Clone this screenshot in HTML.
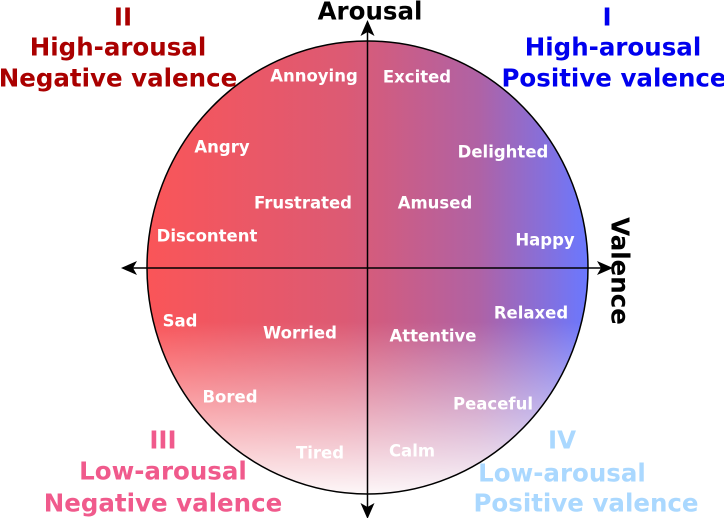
<!DOCTYPE html>
<html><head><meta charset="utf-8"><style>
body{margin:0;background:#fff;}
svg{display:block;font-family:"DejaVu Sans","Liberation Sans",sans-serif;font-weight:bold;}
</style></head><body>
<svg width="724" height="518" viewBox="0 0 724 518" xmlns="http://www.w3.org/2000/svg">
<defs>
<linearGradient id="h" x1="147" y1="0" x2="588" y2="0" gradientUnits="userSpaceOnUse">
<stop offset="0" stop-color="#fa5558"/>
<stop offset="0.45" stop-color="#dc5a74"/>
<stop offset="0.75" stop-color="#b062a4"/>
<stop offset="1" stop-color="#6a78ff"/>
</linearGradient>
<linearGradient id="v" x1="0" y1="41" x2="0" y2="494" gradientUnits="userSpaceOnUse">
<stop offset="0" stop-color="#fff" stop-opacity="0"/>
<stop offset="0.62" stop-color="#fff" stop-opacity="0"/>
<stop offset="1" stop-color="#fff" stop-opacity="0.95"/>
</linearGradient>
<marker id="a" markerWidth="16" markerHeight="14" refX="14" refY="7" orient="auto" markerUnits="userSpaceOnUse">
<path d="M0,0 L16,7 L0,14 L4,7 Z" fill="#000"/>
</marker>
</defs>
<ellipse cx="367.5" cy="267.5" rx="220.5" ry="226.5" fill="url(#h)"/>
<ellipse cx="367.5" cy="267.5" rx="220.5" ry="226.5" fill="url(#v)" stroke="#000" stroke-width="1.5"/>
<line x1="367.5" y1="268" x2="367.5" y2="22" stroke="#000" stroke-width="1.5" marker-end="url(#a)"/>
<line x1="367.5" y1="268" x2="367.5" y2="517" stroke="#000" stroke-width="1.5" marker-end="url(#a)"/>
<line x1="367.5" y1="268" x2="611" y2="268" stroke="#000" stroke-width="1.5" marker-end="url(#a)"/>
<line x1="367.5" y1="268" x2="123" y2="268" stroke="#000" stroke-width="1.5" marker-end="url(#a)"/>
<g fill="#fff" font-size="16.5" text-anchor="middle" dominant-baseline="central">
<text x="314" y="76">Annoying</text>
<text x="417" y="77">Excited</text>
<text x="222" y="147">Angry</text>
<text x="503" y="152">Delighted</text>
<text x="303" y="203">Frustrated</text>
<text x="435" y="203">Amused</text>
<text x="207" y="236">Discontent</text>
<text x="545" y="240">Happy</text>
<text x="180" y="321">Sad</text>
<text x="300" y="333">Worried</text>
<text x="433" y="336">Attentive</text>
<text x="531" y="313">Relaxed</text>
<text x="230" y="397">Bored</text>
<text x="493" y="404">Peaceful</text>
<text x="320" y="453">Tired</text>
<text x="412" y="451">Calm</text>
</g>
<g font-size="24.5" text-anchor="middle" dominant-baseline="central">
<text x="370" y="11" fill="#000">Arousal</text>
<text x="620" y="271" fill="#000" transform="rotate(90 620 271)">Valence</text>
<g fill="#aa0000"><text x="123" y="17">II</text><text x="118" y="47">High-arousal</text><text x="118" y="78">Negative valence</text></g>
<g fill="#0000ee"><text x="607" y="17">I</text><text x="613" y="47">High-arousal</text><text x="614" y="78">Positive valence</text></g>
<g fill="#f05a8c"><text x="163" y="440">III</text><text x="163" y="471">Low-arousal</text><text x="163" y="503">Negative valence</text></g>
<g fill="#aad8ff"><text x="562" y="440">IV</text><text x="562" y="473">Low-arousal</text><text x="586" y="503">Positive valence</text></g>
</g>
</svg>
</body></html>
